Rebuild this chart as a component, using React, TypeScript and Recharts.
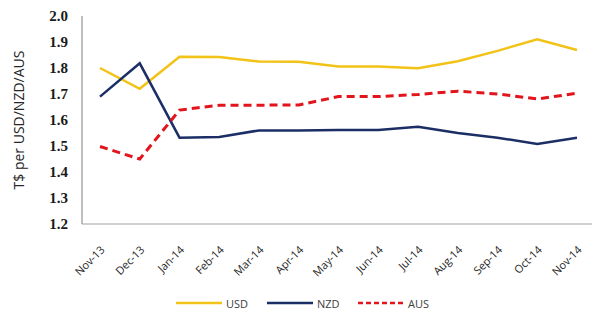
import { LineChart, Line, XAxis, YAxis, Legend } from 'recharts';

const months = [
  'Nov-13', 'Dec-13', 'Jan-14', 'Feb-14', 'Mar-14', 'Apr-14', 'May-14',
  'Jun-14', 'Jul-14', 'Aug-14', 'Sep-14', 'Oct-14', 'Nov-14',
];
const usd = [1.80, 1.72, 1.843, 1.842, 1.825, 1.824, 1.806, 1.806, 1.799, 1.826, 1.866, 1.91, 1.869];
const nzd = [1.69, 1.818, 1.532, 1.535, 1.56, 1.56, 1.562, 1.562, 1.574, 1.55, 1.532, 1.508, 1.532];
const aus = [1.498, 1.45, 1.638, 1.657, 1.657, 1.658, 1.69, 1.69, 1.698, 1.711, 1.70, 1.681, 1.703];
const yTicks = [1.2, 1.3, 1.4, 1.5, 1.6, 1.7, 1.8, 1.9, 2.0];

const SERIES = [
  { key: 'USD', color: '#F2C216', dash: undefined as string | undefined },
  { key: 'NZD', color: '#1B2F66', dash: undefined as string | undefined },
  { key: 'AUS', color: '#E2151D', dash: '8 5' },
];

const data = months.map((m, i) => ({ month: m, USD: usd[i], NZD: nzd[i], AUS: aus[i] }));

const FONT = '"Open Sans", sans-serif';

function LegendBox() {
  return (
    <div style={{ display: 'flex', alignItems: 'center', height: 24, paddingTop: 6, boxSizing: 'border-box' }}>
      {SERIES.map((s) => (
        <div key={s.key} style={{ width: 91, display: 'flex', alignItems: 'center' }}>
          <svg width={46} height={6}>
            <line x1={0} y1={3} x2={46} y2={3} stroke={s.color} strokeWidth={2.5} strokeDasharray={s.dash ? '5 3' : undefined} />
          </svg>
          <span style={{ marginLeft: 4, fontSize: 11, color: '#404040', fontFamily: FONT }}>{s.key}</span>
        </div>
      ))}
    </div>
  );
}

export default function App() {
  return (
    <div style={{ position: 'absolute', left: 0, top: 0, width: 592, height: 312, background: '#fff' }}>
      <LineChart width={592} height={312} data={data} margin={{ top: 16, right: 0, left: 0, bottom: 0 }}>
        <XAxis
          dataKey="month"
          height={64}
          padding={{ left: 18, right: 15 }}
          stroke="#C0C0C0"
          strokeWidth={1.5}
          tickLine={false}
          tickSize={0}
          tickMargin={21}
          interval={0}
          angle={-45}
          textAnchor="end"
          tick={{ fill: '#262626', fontSize: 11, fontFamily: FONT }}
        />
        <YAxis
          width={82}
          domain={[1.2, 2.0]}
          ticks={yTicks}
          tickFormatter={(v: number) => v.toFixed(1)}
          stroke="#7F7F7F"
          tickLine={false}
          tickSize={0}
          tickMargin={14}
          tick={{ fill: '#1a1a1a', fontSize: 15, fontFamily: '"Liberation Serif", serif', fontWeight: 600 }}
          label={{
            value: 'T$ per USD/NZD/AUS',
            angle: -90,
            position: 'insideLeft',
            offset: 19,
            style: { textAnchor: 'middle', fill: '#262626', fontSize: 14, fontFamily: FONT },
          }}
        />
        <Legend content={<LegendBox />} wrapperStyle={{ left: 176, bottom: 0, width: 280, height: 24 }} />
        {SERIES.map((s) => (
          <Line
            key={s.key}
            dataKey={s.key}
            stroke={s.color}
            strokeWidth={s.dash ? 3 : 2.5}
            strokeDasharray={s.dash}
            dot={false}
            activeDot={false}
            isAnimationActive={false}
          />
        ))}
      </LineChart>
    </div>
  );
}
